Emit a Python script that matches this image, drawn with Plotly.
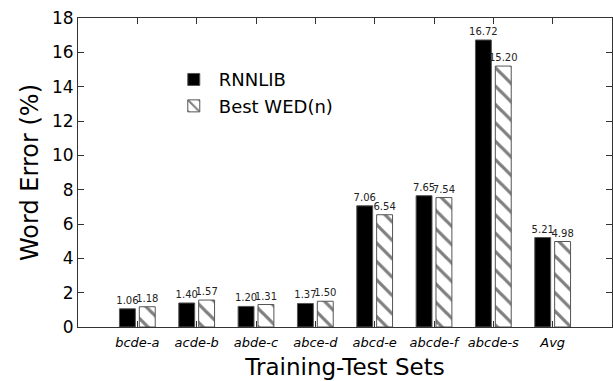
import plotly.graph_objects as go

categories = ["bcde-a", "acde-b", "abde-c", "abce-d", "abcd-e", "abcde-f", "abcde-s", "Avg"]
rnnlib = [1.06, 1.40, 1.20, 1.37, 7.06, 7.65, 16.72, 5.21]
best_wed = [1.18, 1.57, 1.31, 1.50, 6.54, 7.54, 15.20, 4.98]
y_ticks = [0, 2, 4, 6, 8, 10, 12, 14, 16, 18]

FONT = "DejaVu Sans"

fig = go.Figure()
fig.add_trace(go.Bar(
    x=categories, y=rnnlib, name="RNNLIB",
    marker=dict(color="black", line=dict(color="#555555", width=1)),
    text=[f"{v:.2f}" for v in rnnlib], textposition="outside",
    textfont=dict(family=FONT, size=10, color="#222222"),
    constraintext="none", cliponaxis=False,
))
fig.add_trace(go.Bar(
    x=categories, y=best_wed, name="Best WED(n)",
    marker=dict(color="white", line=dict(color="#555555", width=1),
                pattern=dict(shape="\\", fgcolor="black", bgcolor="white", size=13, solidity=0.25)),
    text=[f"{v:.2f}" for v in best_wed], textposition="outside",
    textfont=dict(family=FONT, size=10, color="#222222"),
    constraintext="none", cliponaxis=False,
))

fig.update_layout(
    width=613, height=381,
    margin=dict(l=78, r=1, t=18, b=54),
    paper_bgcolor="white", plot_bgcolor="white",
    barmode="group", bargap=0.33, bargroupgap=0.2,
    font=dict(family=FONT, color="black"),
    showlegend=True,
    legend=dict(x=0.17, y=0.86, xanchor="left", yanchor="top",
                font=dict(family=FONT, size=18, color="black"),
                bgcolor="rgba(0,0,0,0)", tracegroupgap=0, itemwidth=40),
)
fig.update_xaxes(
    range=[-1, 8], showline=True, linecolor="#333333", linewidth=1, mirror="allticks",
    ticks="inside", ticklen=6, tickcolor="#333333",
    tickvals=categories, ticktext=[f"<i>{c}</i>" for c in categories],
    tickfont=dict(family=FONT, size=13, color="black"), ticklabelstandoff=3,
    title=dict(text="Training-Test Sets", font=dict(family=FONT, size=23), standoff=10),
    showgrid=False, zeroline=False,
)
fig.update_yaxes(
    range=[0, 18], tickvals=y_ticks, showline=True, linecolor="#333333", linewidth=1,
    mirror="allticks", ticks="inside", ticklen=6, tickcolor="#333333",
    tickfont=dict(family=FONT, size=17, color="black"),
    title=dict(text="Word Error (%)", font=dict(family=FONT, size=24), standoff=6),
    showgrid=False, zeroline=False,
)

fig.write_html("out.html")
